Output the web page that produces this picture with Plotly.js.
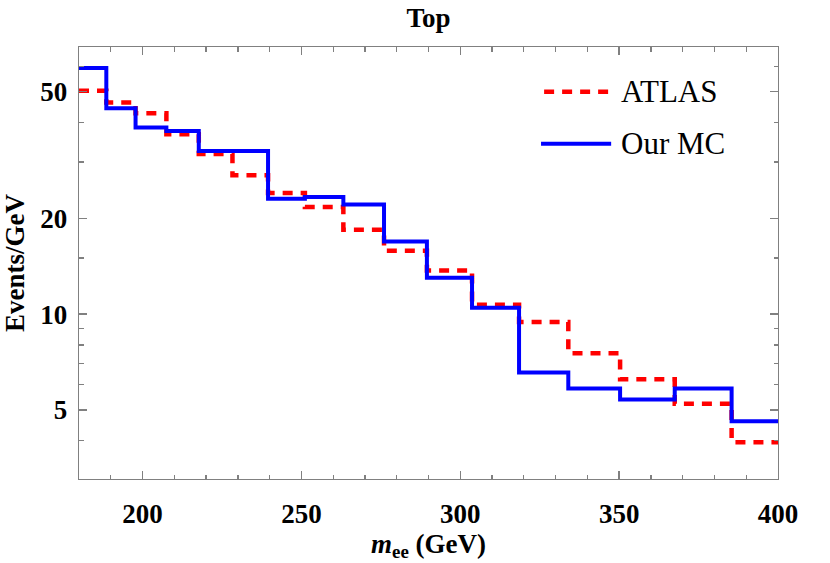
<!DOCTYPE html>
<html>
<head>
<meta charset="utf-8">
<script src="https://cdn.plot.ly/plotly-3.0.1.min.js"></script>
<style>
  html, body { margin: 0; padding: 0; background: #fff; }
  #chart { width: 830px; height: 563px; }
</style>
</head>
<body>
<div id="chart"></div>
<script>
// Bin edges (GeV) and per-bin heights
const binEdges = [180, 188.6, 197.8, 207.5, 217.7, 228.3, 239.5, 251.1, 263.2, 276.0,
                  289.5, 303.7, 318.5, 334.0, 350.3, 367.5, 385.4, 400];
const atlasValues = [50.3, 46.2, 42.7, 36.7, 31.8, 27.3, 24.0, 21.7, 18.4, 15.8,
                     13.7, 10.7, 9.44, 7.54, 6.24, 5.23, 3.96];
const mcValues = [59.2, 44.3, 38.5, 37.6, 32.5, 32.5, 23.0, 23.3, 22.1, 16.9,
                  13.0, 10.47, 6.55, 5.84, 5.39, 5.84, 4.61];

const seriesNames = ['ATLAS', 'Our MC'];
const yMajorTicks = [5, 10, 20, 50];
const yMinorTicks = [4, 6, 7, 8, 9, 15, 30, 40, 60];
const xMajorTicks = [200, 250, 300, 350, 400];

const COLORS = {
    atlas: '#ff0000',
    mc: '#0000ff',
    frame: '#808080',
    text: '#000000'
};
const FONT = 'Liberation Serif, Times New Roman, serif';

// hv step needs the last level repeated at the right edge
function stepY(vals) {
    return vals.concat([vals[vals.length - 1]]);
}

const traces = [
    {
        x: binEdges,
        y: stepY(atlasValues),
        name: seriesNames[0],
        type: 'scatter',
        mode: 'lines',
        line: { shape: 'hv', color: COLORS.atlas, width: 4.5, dash: '10px,8px' },
        hoverinfo: 'none'
    },
    {
        x: binEdges,
        y: stepY(mcValues),
        name: seriesNames[1],
        type: 'scatter',
        mode: 'lines',
        line: { shape: 'hv', color: COLORS.mc, width: 4 },
        hoverinfo: 'none'
    }
];

const axisCommon = {
    showgrid: false,
    zeroline: false,
    showline: true,
    linecolor: COLORS.frame,
    linewidth: 1.3,
    mirror: 'ticks',
    ticks: 'inside',
    tickcolor: COLORS.frame,
    tickwidth: 1.3,
    ticklen: 8,
    tickfont: { family: FONT, size: 27, color: COLORS.text, weight: 'bold' }
};

const layout = {
    width: 830,
    height: 563,
    margin: { l: 79, r: 52, t: 47, b: 84 },
    paper_bgcolor: '#ffffff',
    plot_bgcolor: '#ffffff',
    showlegend: false,
    title: {
        text: 'Top',
        font: { family: FONT, size: 27, color: COLORS.text, weight: 'bold' },
        x: 0.5,
        xref: 'paper',
        y: 0.968,
        yref: 'container',
        yanchor: 'middle'
    },
    xaxis: Object.assign({}, axisCommon, {
        range: [180, 400],
        tickmode: 'array',
        tickvals: xMajorTicks,
        ticklabelstandoff: 10,
        minor: { dtick: 10, tick0: 180, ticks: 'inside', ticklen: 4.5, tickcolor: COLORS.frame, tickwidth: 1.3 },
        title: {
            text: '<i>m</i><sub>ee</sub> (GeV)',
            font: { family: FONT, size: 27, color: COLORS.text, weight: 'bold' },
            standoff: 2
        }
    }),
    yaxis: Object.assign({}, axisCommon, {
        type: 'log',
        range: [Math.log10(3.035), Math.log10(68.96)],
        tickmode: 'array',
        tickvals: yMajorTicks,
        ticktext: yMajorTicks.map(String),
        ticklabelstandoff: 5,
        minor: { tickmode: 'array', tickvals: yMinorTicks, ticks: 'inside', ticklen: 4.5, tickcolor: COLORS.frame, tickwidth: 1.3 },
        title: {
            text: 'Events/GeV',
            font: { family: FONT, size: 27, color: COLORS.text, weight: 'bold' },
            standoff: 12
        }
    }),
    // hand-made legend so the line samples are as long as in the figure
    shapes: [
        { type: 'line', xref: 'paper', yref: 'paper', x0: 0.6654, x1: 0.7577, y0: 0.8965, y1: 0.8965,
          line: { color: COLORS.atlas, width: 4.5, dash: '10px,8px' } },
        { type: 'line', xref: 'paper', yref: 'paper', x0: 0.6610, x1: 0.7613, y0: 0.776, y1: 0.776,
          line: { color: COLORS.mc, width: 4 } }
    ],
    annotations: [
        { xref: 'paper', yref: 'paper', x: 0.7725, y: 0.8965, xanchor: 'left', yanchor: 'middle',
          text: seriesNames[0], showarrow: false, font: { family: FONT, size: 31, color: COLORS.text } },
        { xref: 'paper', yref: 'paper', x: 0.7725, y: 0.776, xanchor: 'left', yanchor: 'middle',
          text: seriesNames[1], showarrow: false, font: { family: FONT, size: 31, color: COLORS.text } }
    ]
};

Plotly.newPlot('chart', traces, layout, { staticPlot: true, displayModeBar: false });
</script>
</body>
</html>
